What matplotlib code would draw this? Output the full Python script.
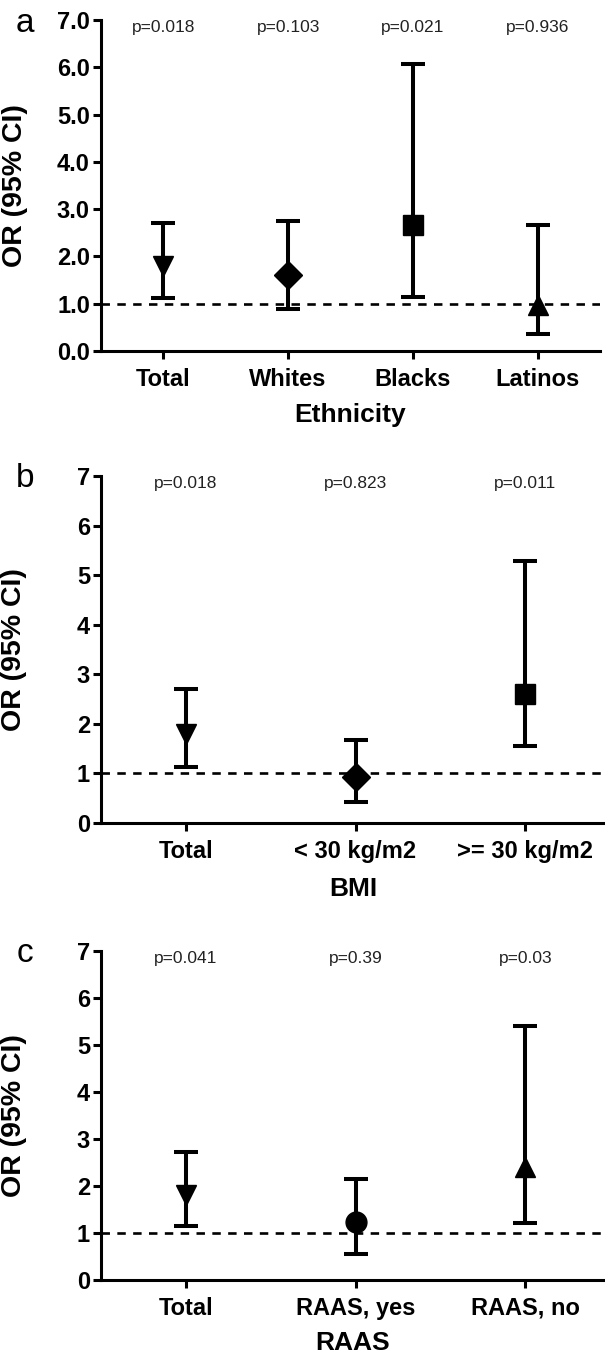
import numpy as np
import matplotlib.pyplot as plt

plt.rcParams['font.family'] = ['Liberation Sans', 'DejaVu Sans']

# a: ethnicity
eth_groups = ['Total', 'Whites', 'Blacks', 'Latinos']
eth_or = [1.80, 1.61, 2.66, 0.97]
eth_lo = [1.13, 0.89, 1.15, 0.35]
eth_hi = [2.71, 2.74, 6.06, 2.66]
eth_p = ['p=0.018', 'p=0.103', 'p=0.021', 'p=0.936']
eth_markers = ['v', 'D', 's', '^']

# b: BMI
bmi_groups = ['Total', '< 30 kg/m2', '>= 30 kg/m2']
bmi_or = [1.79, 0.92, 2.60]
bmi_lo = [1.12, 0.42, 1.55]
bmi_hi = [2.70, 1.68, 5.29]
bmi_p = ['p=0.018', 'p=0.823', 'p=0.011']
bmi_markers = ['v', 'D', 's']

# c: RAAS
raas_groups = ['Total', 'RAAS, yes', 'RAAS, no']
raas_or = [1.80, 1.24, 2.40]
raas_lo = [1.14, 0.55, 1.21]
raas_hi = [2.73, 2.15, 5.41]
raas_p = ['p=0.041', 'p=0.39', 'p=0.03']
raas_markers = ['v', 'o', '^']

W, H = 605, 1357
fig = plt.figure(figsize=(W / 100, H / 100), dpi=100)


def panel(rect, letter, groups, orv, lo, hi, pvals, markers, xlabel, fmt, xmax, xlab_y):
    left, top, right, bottom = rect
    ax = fig.add_axes([left / W, 1 - bottom / H, (right - left) / W, (bottom - top) / H])
    x = np.arange(len(groups))
    orv, lo, hi = np.array(orv), np.array(lo), np.array(hi)

    # reference line at OR = 1
    ax.axhline(1, color='black', lw=1.9, ls=(0, (3.2, 2.8)), zorder=1)
    ax.errorbar(x, orv, yerr=[orv - lo, hi - orv], fmt='none', ecolor='black',
                elinewidth=2.9, capsize=8.5, capthick=2.9, zorder=2)
    for xi, yi, m in zip(x, orv, markers):
        ms = 14.5 if m == 'D' else 15
        ax.plot(xi, yi, marker=m, color='black', markersize=ms, zorder=3)

    for xi, s in zip(x, pvals):
        ax.text(xi, 6.85, s, ha='center', va='center', fontsize=12.5, color='#222222')

    ax.set_xlim(-0.5, xmax)
    ax.set_ylim(0, 7)
    ax.set_yticks(range(8))
    ax.set_yticklabels([fmt % v for v in range(8)], fontsize=17, fontweight='bold')
    ax.set_xticks(x)
    ax.set_xticklabels(groups, fontsize=17, fontweight='bold')
    for side in ['top', 'right']:
        ax.spines[side].set_visible(False)
    for side in ['left', 'bottom']:
        ax.spines[side].set_linewidth(2.2)
    ax.tick_params(axis='both', length=6, width=2.2, direction='out')
    ax.tick_params(axis='y', pad=2)
    ax.tick_params(axis='x', pad=6)

    ax.set_ylabel('OR (95% CI)', fontsize=20.5, fontweight='bold')
    ax.yaxis.set_label_coords(-0.146, 0.5)
    ax.set_xlabel(xlabel, fontsize=19, fontweight='bold')
    ax.xaxis.label.set_va('center')
    ax.xaxis.set_label_coords(0.5, xlab_y)

    fig.text(25 / W, 1 - (top + 3) / H, letter, fontsize=24, ha='center', va='center')
    return ax


panel((101, 20, 600, 351), 'a', eth_groups, eth_or, eth_lo, eth_hi, eth_p,
      eth_markers, 'Ethnicity', '%.1f', 3.5, -0.193)
panel((101, 476, 605, 823), 'b', bmi_groups, bmi_or, bmi_lo, bmi_hi, bmi_p,
      bmi_markers, 'BMI', '%d', 2.47, -0.19)
panel((101, 951, 605, 1280), 'c', raas_groups, raas_or, raas_lo, raas_hi, raas_p,
      raas_markers, 'RAAS', '%d', 2.47, -0.191)

fig.savefig('out.png', dpi=100)
